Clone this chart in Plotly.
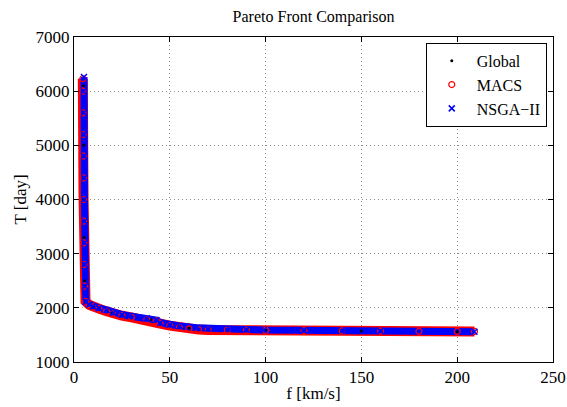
import plotly.graph_objects as go

# ---- data ----
# MACS front (f [km/s], T [day])
macs_f = [4.6, 4.5, 4.6, 4.7, 4.8, 4.9, 5.0, 5.0, 5.1, 5.2, 5.4, 6.0, 8.0, 10.0, 13.0, 17.0, 20.0,
          25.0, 30.0, 38.0, 43.0, 45.0, 50.0, 55.0, 60.0, 65.0, 70.0, 80.0, 90.0, 100.0, 120.0,
          140.0, 160.0, 180.0, 200.0, 209.0]
macs_T = [6230, 6000, 5600, 5200, 4800, 4400, 4000, 3600, 3200, 2800, 2400, 2120, 2055, 2015, 1985, 1935, 1890,
          1855, 1825, 1785, 1760, 1710, 1672, 1638, 1612, 1598, 1592, 1588, 1585, 1583, 1578,
          1574, 1570, 1567, 1565, 1565]

# NSGA-II front
nsga_f = [5.2, 5.1, 5.2, 5.3, 5.3, 5.4, 5.4, 5.5, 5.5, 5.6, 5.7, 6.2, 8.0, 10.0, 13.0, 17.0, 20.5,
          25.0, 29.0, 38.0, 43.0, 45.0, 50.0, 55.0, 64.0, 70.0, 81.0, 90.0, 99.0, 120.0,
          142.0, 160.0, 177.0, 195.0, 209.0]
nsga_T = [6260, 6000, 5600, 5200, 4800, 4400, 4000, 3600, 3200, 2800, 2400, 2110, 2060, 2030, 1995, 1960, 1910,
          1875, 1850, 1805, 1775, 1726, 1690, 1665, 1634, 1620, 1610, 1600, 1590, 1584,
          1578, 1572, 1565, 1562, 1558]

# Global front (mostly hidden under the other two)
glob_f = [5.0, 5.1, 5.2, 5.3, 5.5, 6.0, 10.0, 20.0, 40.0, 60.0, 100.0, 150.0, 200.0]
glob_T = [6100, 5000, 4000, 3300, 2500, 2100, 2030, 1905, 1780, 1630, 1588, 1572, 1560]

x_ticks = [0, 50, 100, 150, 200, 250]
y_ticks = [1000, 2000, 3000, 4000, 5000, 6000, 7000]

FONT = "Times New Roman"

fig = go.Figure()

# thick bands (the dense marker clouds of the original)
fig.add_trace(go.Scatter(x=macs_f, y=macs_T, mode="lines", showlegend=False, hoverinfo="skip",
                         line=dict(color="#ff0000", width=10)))
fig.add_trace(go.Scatter(x=nsga_f, y=nsga_T, mode="lines", showlegend=False, hoverinfo="skip",
                         line=dict(color="#0000ff", width=7)))

fig.add_trace(go.Scatter(x=glob_f, y=glob_T, mode="markers", name="Global",
                         marker=dict(symbol="circle", size=3, color="black")))
fig.add_trace(go.Scatter(x=macs_f, y=macs_T, mode="markers", name="MACS",
                         marker=dict(symbol="circle-open", size=6, color="#ff0000",
                                     line=dict(width=1.2, color="#ff0000"))))
fig.add_trace(go.Scatter(x=nsga_f, y=nsga_T, mode="markers", name="NSGA\u2212II",
                         marker=dict(symbol="x-thin-open", size=6, color="#0000ff",
                                     line=dict(width=1.5, color="#0000ff"))))

axis_common = dict(
    showline=True, linecolor="black", linewidth=1, mirror="allticks",
    ticks="inside", ticklen=5, tickcolor="black", automargin=False,
    showgrid=True, gridcolor="#8c8c8c", griddash="1px,3px", gridwidth=1,
    zeroline=False, tickfont=dict(family=FONT, size=17, color="black"),
)

fig.update_xaxes(range=[0, 250], tickvals=x_ticks, ticktext=[str(v) for v in x_ticks],
                 title=dict(text="f [km/s]", font=dict(family=FONT, size=17, color="black"), standoff=0),
                 **axis_common)
fig.update_yaxes(range=[1000, 7000], tickvals=y_ticks, ticktext=[str(v) for v in y_ticks],
                 title=dict(text="T [day]", font=dict(family=FONT, size=17, color="black"), standoff=4),
                 **axis_common)

fig.update_layout(
    width=567, height=407,
    margin=dict(l=74, r=14, t=37, b=45),
    paper_bgcolor="white", plot_bgcolor="white",
    font=dict(family=FONT, color="black"),
    title=dict(text="Pareto Front Comparison", x=0.5, xref="paper", y=1 - 16 / 407,
               yanchor="middle", xanchor="center",
               font=dict(family=FONT, size=16, color="black")),
    legend=dict(x=0.987, y=0.982, xanchor="right", yanchor="top",
                bgcolor="white", bordercolor="black", borderwidth=1,
                font=dict(family=FONT, size=16, color="black"),
                itemwidth=40, tracegroupgap=0),
    showlegend=True,
)

fig.write_html("out.html", config={"displayModeBar": False},
               post_script="document.body.style.margin='0';")
